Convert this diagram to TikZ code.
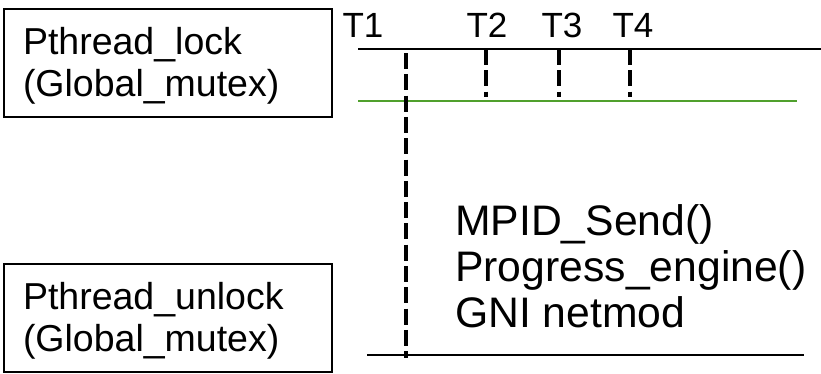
\documentclass[tikz,border=0pt]{standalone}
\usepackage{fontspec}
\setmainfont{Liberation Sans}
\usetikzlibrary{positioning,calc}
\definecolor{lockgreen}{RGB}{80,160,45}
\newcommand{\topstrut}{\rule{0pt}{33pt}}

\begin{document}
\begin{tikzpicture}[
  x=1pt, y=-1pt,
  box/.style={rectangle, draw, line width=1.5pt, text width=290pt, inner xsep=19pt, inner ysep=0pt, minimum height=108pt, align=left, font=\fontsize{37.5}{42}\selectfont},
  tlabel/.style={anchor=base, inner sep=0pt, font=\fontsize{35}{40}\selectfont},
  calltext/.style={anchor=north west, inner sep=0pt, align=left, font=\fontsize{42.7}{46}\selectfont},
  tline/.style={line width=2pt},
  thread/.style={line width=4.5pt, dash pattern=on 16pt off 5.3pt}
]
  \useasboundingbox (0,0) rectangle (821,373);
  \node[box] (lock) at (168,63) {\topstrut Pthread\_lock\\(Global\_mutex)};
  \node[box] (unlock) at (168,318) {\topstrut Pthread\_unlock\\(Global\_mutex)};
  \node[calltext] (calls) at (455,204) {MPID\_Send()\\Progress\_engine()\\GNI netmod};
  \node[tlabel] (t1) at (363,37) {T1};
  \node[tlabel] (t2) at (487,37) {T2};
  \node[tlabel] (t3) at (562,37) {T3};
  \node[tlabel] (t4) at (633,37) {T4};
  \coordinate (lockl) at (358,49);
  \coordinate (lockr) at (821,49);
  \coordinate (gotl) at (358,100.7);
  \coordinate (gotr) at (797,100.7);
  \coordinate (unll) at (367,355);
  \coordinate (unlr) at (804,355);
  \coordinate (t1top) at (406,53);
  \coordinate (t1bot) at (406,358);
  \coordinate (t2top) at (486,49);
  \coordinate (t2bot) at (486,97);
  \coordinate (t3top) at (559,49);
  \coordinate (t3bot) at (559,97);
  \coordinate (t4top) at (630,49);
  \coordinate (t4bot) at (630,97);
  \draw[tline] (lockl) -- (lockr);
  \draw[tline, lockgreen] (gotl) -- (gotr);
  \draw[tline] (unll) -- (unlr);
  \draw[thread] (t1top) -- (t1bot);
  \draw[thread] (t2top) -- (t2bot);
  \draw[thread] (t3top) -- (t3bot);
  \draw[thread] (t4top) -- (t4bot);
\end{tikzpicture}
\end{document}
